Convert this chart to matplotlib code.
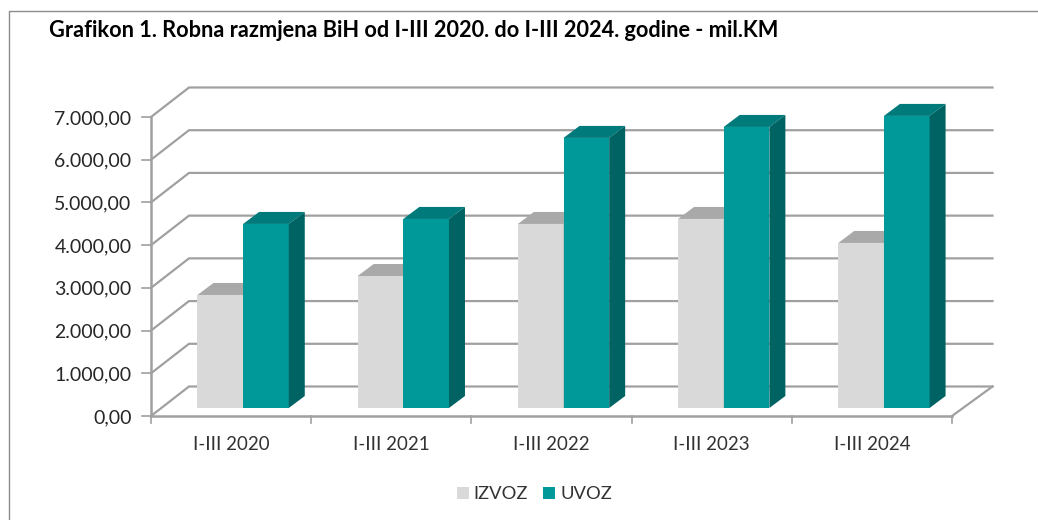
import matplotlib
matplotlib.use('Agg')
import matplotlib.pyplot as plt
from matplotlib.patches import Polygon, Rectangle

# values, mil. KM
kategorije = ['I-III 2020', 'I-III 2021', 'I-III 2022', 'I-III 2023', 'I-III 2024']
izvoz = [2646, 3090, 4309, 4426, 3864]
uvoz = [4309, 4426, 6323, 6580, 6838]
y_oznake = ['0,00', '1.000,00', '2.000,00', '3.000,00', '4.000,00', '5.000,00', '6.000,00', '7.000,00']
y_vrijednosti = [0, 1000, 2000, 3000, 4000, 5000, 6000, 7000]

W, H = 1038, 520
plt.rcParams['font.family'] = ['Lato', 'DejaVu Sans']

fig = plt.figure(figsize=(W / 100, H / 100), dpi=100)
# front plane of the fake 3d box
L, R, T, B = 151, 952, 117, 416
ax = fig.add_axes([L / W, 1 - B / H, (R - L) / W, (B - T) / H])
ax.set_xlim(0, 5)
ax.set_ylim(0, 7000)
ax.axis('off')

px = 5 / (R - L)          # one pixel in x data units
py = 7000 / (B - T)       # one pixel in y data units
dub_x, dub_y = 38 * px, 29.5 * py     # depth of the box
desno_x = 40.5 * px                   # right edge of the floor runs a bit wider
bar_dx, bar_dy = 16 * px, 12 * py     # depth of the bars
baza = 8 * py
sirina = 0.285
siva = '#a0a0a0'

# floor and walls
for v in y_vrijednosti:
    ax.plot([0, dub_x, 5 + desno_x], [v, v + dub_y, v + dub_y], color=siva, lw=1.6,
            clip_on=False, zorder=1, solid_joinstyle='miter')
    ax.plot([-9 * px, 0], [v, v], color=siva, lw=1.2, clip_on=False, zorder=1)
ax.plot([5, 5 + desno_x], [0, dub_y], color=siva, lw=1.6, clip_on=False, zorder=1)
ax.plot([0, 5], [0, 0], color=siva, lw=1.8, clip_on=False, zorder=1)
ax.plot([0, 0], [0, 7000], color=siva, lw=1.8, clip_on=False, zorder=1)
for i in range(6):
    ax.plot([i, i], [0, -7 * py], color=siva, lw=1.2, clip_on=False, zorder=1)


def stupac(x, v, lice, vrh, bok, z):
    g = v + baza
    ax.bar(x, v, sirina, bottom=baza, align='edge', color=lice, zorder=z, clip_on=False)
    ax.add_patch(Polygon([(x, g), (x + sirina, g), (x + sirina + bar_dx, g + bar_dy), (x + bar_dx, g + bar_dy)],
                         closed=True, fc=vrh, ec='none', zorder=z, clip_on=False))
    ax.add_patch(Polygon([(x + sirina, baza), (x + sirina + bar_dx, baza + bar_dy),
                          (x + sirina + bar_dx, g + bar_dy), (x + sirina, g)],
                         closed=True, fc=bok, ec='none', zorder=z, clip_on=False))


for i in range(len(kategorije)):
    stupac(i + 0.29, izvoz[i], '#d9d9d9', '#a9a9a9', '#a9a9a9', 3)
    stupac(i + 0.29 + sirina, uvoz[i], '#009999', '#007a7a', '#006363', 4)
    ax.text(i + 0.5, -29 * py, kategorije[i], ha='center', va='center', fontsize=13.5,
            color='#333333', clip_on=False)

for v, t in zip(y_vrijednosti, y_oznake):
    ax.text(-19.5 * px, v - 1.5 * py, t, ha='right', va='center', fontsize=14, color='#262626', clip_on=False)

fig.text(49 / W, 1 - 30.5 / H, 'Grafikon 1. Robna razmjena BiH od I-III 2020. do I-III 2024. godine - mil.KM',
         ha='left', va='center', fontsize=15.68, fontweight='bold', color='black')

# legend
fig.add_artist(Rectangle((457 / W, 1 - 499 / H), 11.5 / W, 12 / H, transform=fig.transFigure, fc='#d9d9d9', ec='none'))
fig.text(473.5 / W, 1 - 494 / H, 'IZVOZ', ha='left', va='center', fontsize=13.2, color='#333333')
fig.add_artist(Rectangle((543 / W, 1 - 499 / H), 11.5 / W, 12 / H, transform=fig.transFigure, fc='#009999', ec='none'))
fig.text(560.5 / W, 1 - 494 / H, 'UVOZ', ha='left', va='center', fontsize=13.2, color='#333333')

# chart frame, top and left only
fig.add_artist(plt.Line2D([8.5 / W, 8.5 / W, 1], [0, 1 - 10.5 / H, 1 - 10.5 / H], color='#8c8c8c', lw=1))

fig.savefig('out.png', dpi=100)
